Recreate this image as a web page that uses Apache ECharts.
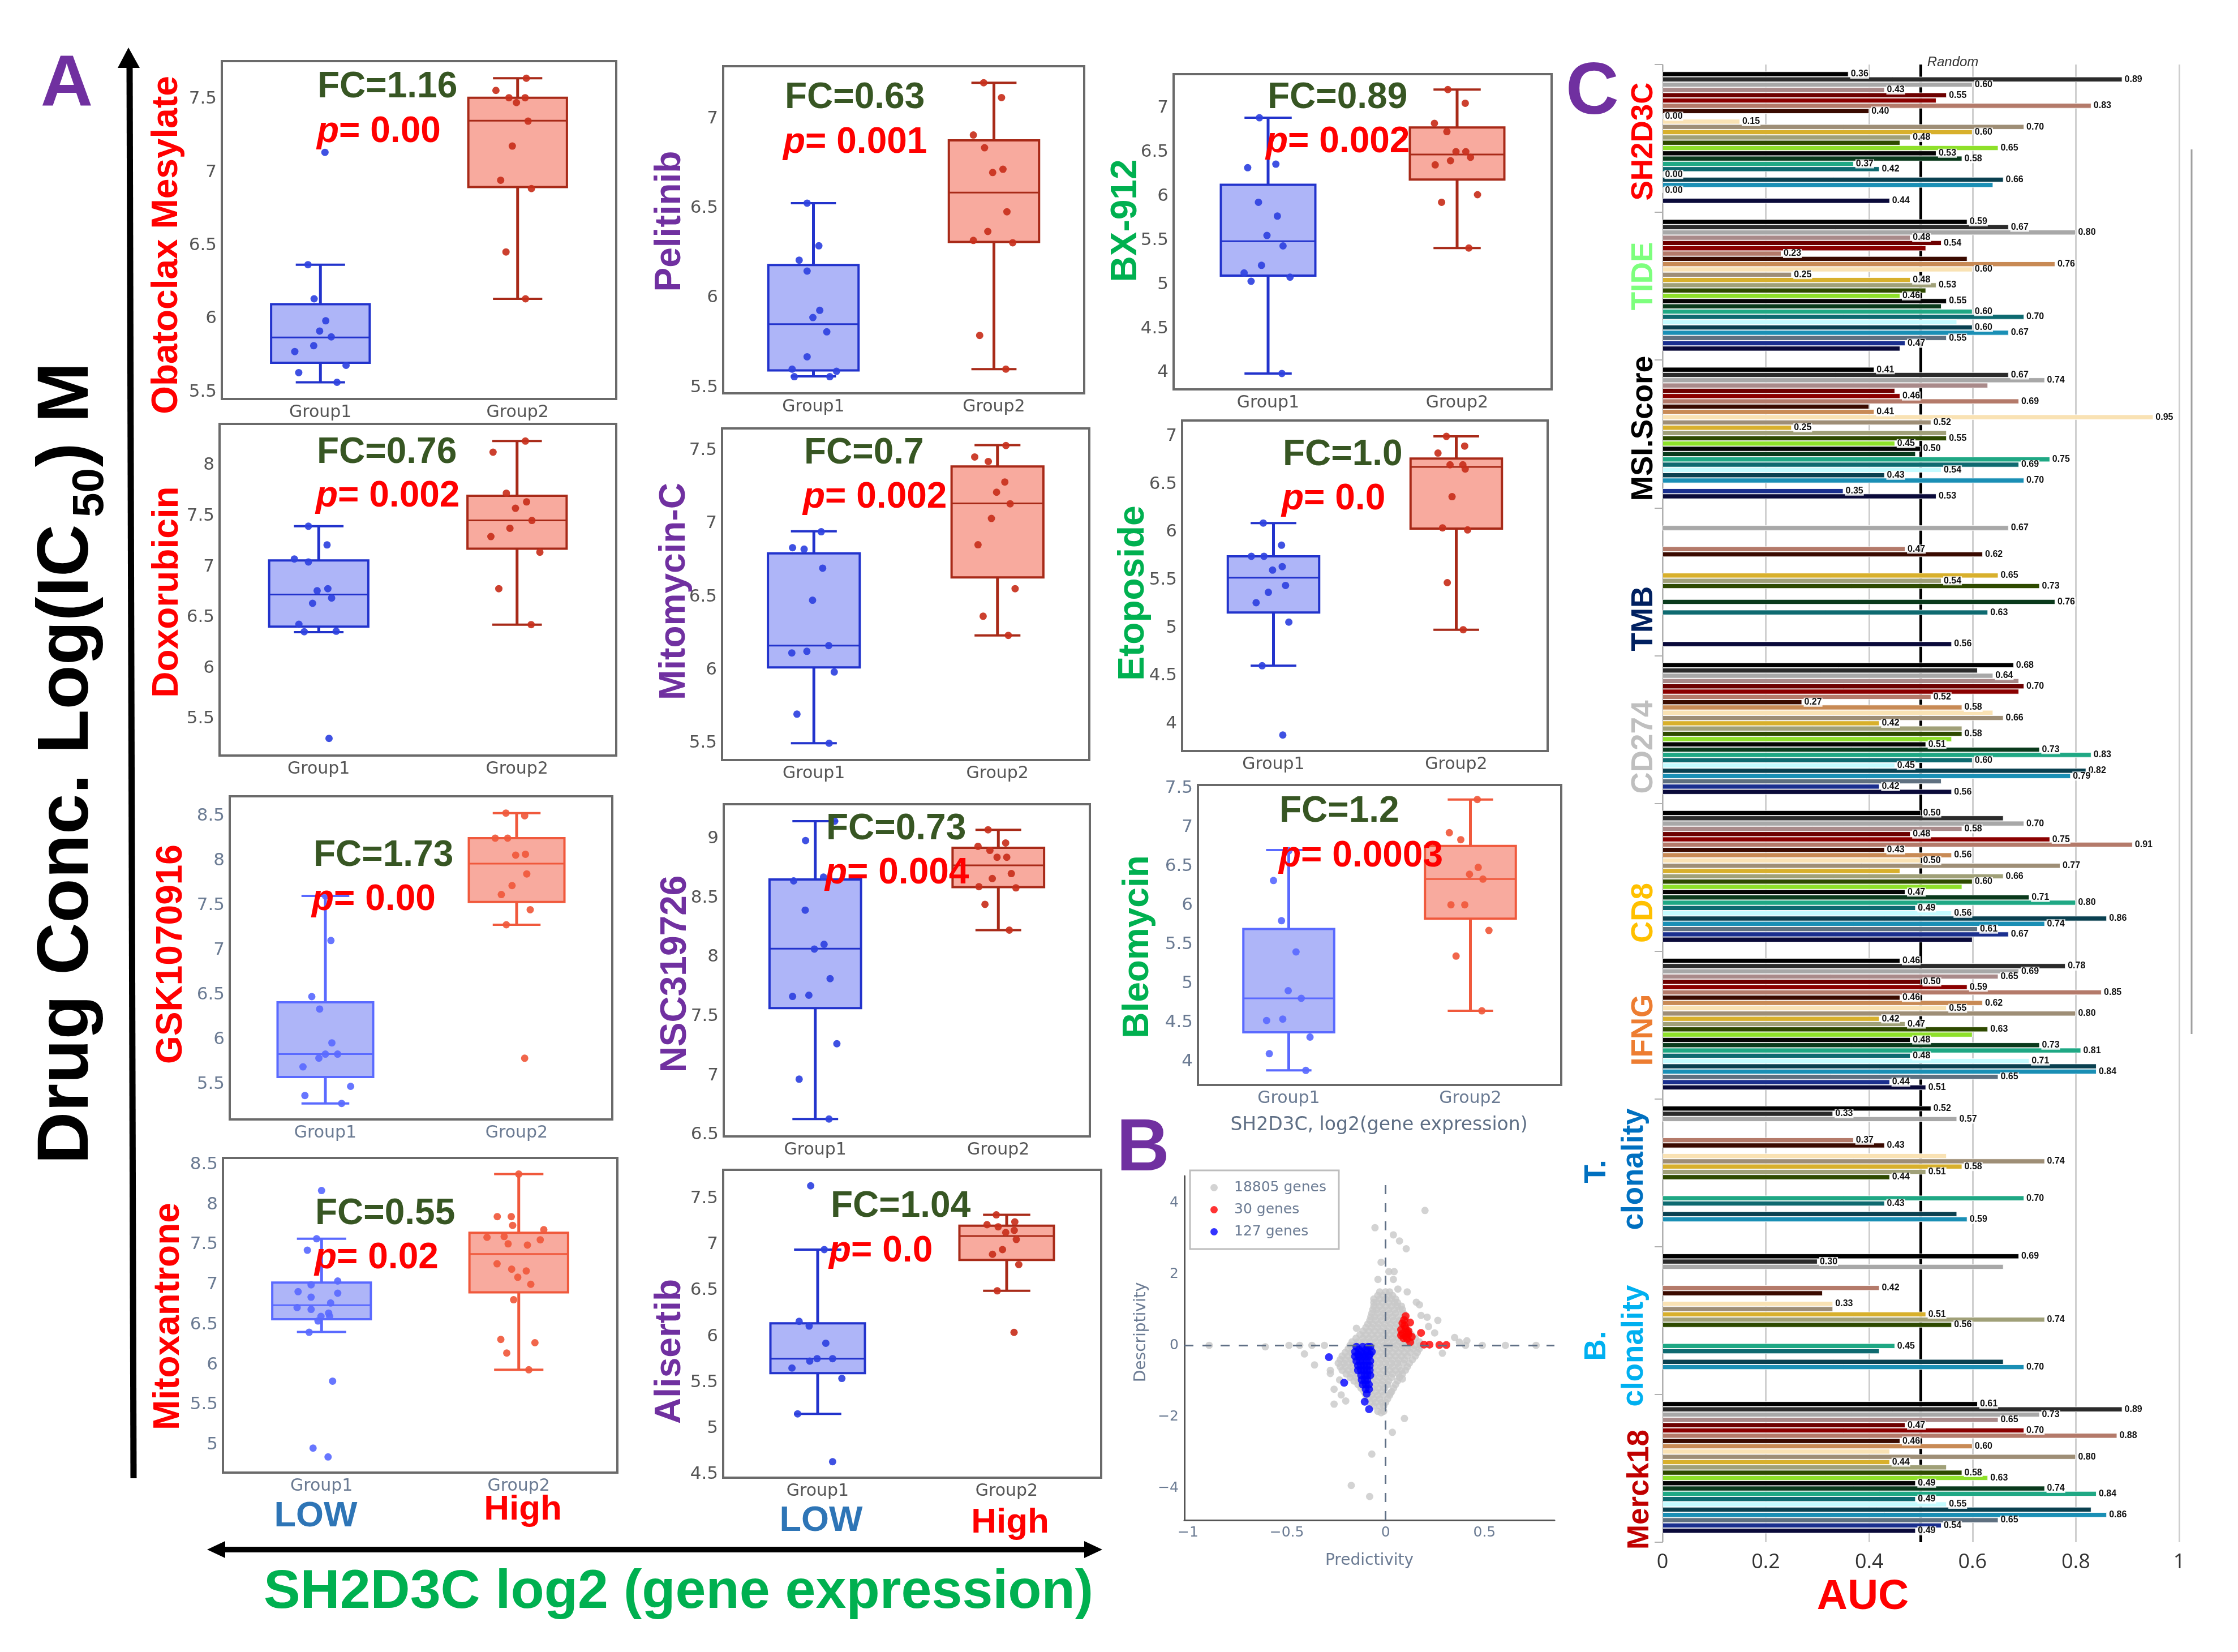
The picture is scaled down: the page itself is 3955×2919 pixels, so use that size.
<!DOCTYPE html>
<html><head><meta charset="utf-8">
<style>html,body{margin:0;padding:0;background:#fff}#c{width:3955px;height:2919px}</style>
<script src="https://cdn.jsdelivr.net/npm/echarts@6/dist/echarts.min.js"></script>
</head><body><div id="c"></div>
<script>
// ---------- Panel A: values. box = [low, q1, median, q3, high]; points = [jitter, value]
const drugNames = ['Obatoclax Mesylate','Doxorubicin','GSK1070916','Mitoxantrone','Pelitinib','Mitomycin-C','NSC319726','Alisertib','BX-912','Etoposide','Bleomycin'];
const fcLabels = ['FC=1.16','FC=0.76','FC=1.73','FC=0.55','FC=0.63','FC=0.7','FC=0.73','FC=1.04','FC=0.89','FC=1.0','FC=1.2'];
const pLabels = ['= 0.00','= 0.002','= 0.00','= 0.02','= 0.001','= 0.002','= 0.004','= 0.0','= 0.002','= 0.0','= 0.0003'];
const groupNames = ['Group1','Group2'];
const yRanges = [[5.453,7.76],[5.139,8.409],[5.106,8.718],[4.653,8.585],[5.467,7.292],[5.385,7.651],[6.486,9.293],[4.464,7.814],[3.81,7.385],[3.717,7.166],[3.699,7.544]];
const yTicks = [[5.5,6,6.5,7,7.5],[5.5,6,6.5,7,7.5,8],[5.5,6,6.5,7,7.5,8,8.5],[5,5.5,6,6.5,7,7.5,8,8.5],[5.5,6,6.5,7],[5.5,6,6.5,7,7.5],[6.5,7,7.5,8,8.5,9],[4.5,5,5.5,6,6.5,7,7.5],[4,4.5,5,5.5,6,6.5,7],[4,4.5,5,5.5,6,6.5,7],[4,4.5,5,5.5,6,6.5,7,7.5]];
const lowBoxes = [[5.567,5.70,5.873,6.10,6.37],[6.356,6.41,6.726,7.0625,7.40],[5.285,5.58,5.836,6.416,7.605],[6.41,6.57,6.744,7.028,7.575],[5.562,5.595,5.853,6.183,6.528],[5.5,6.018,6.167,6.797,6.948],[6.633,7.57,8.073,8.657,9.15],[5.159,5.601,5.759,6.144,6.946],[3.99,5.10,5.49,6.13,6.89],[4.607,5.163,5.525,5.749,6.096],[3.885,4.374,4.809,5.697,6.71]];
const highBoxes = [[6.137,6.90,7.353,7.51,7.643],[6.43,7.178,7.457,7.70,8.24],[7.282,7.537,7.965,8.25,8.53],[5.938,6.905,7.385,7.65,8.383],[5.602,6.312,6.587,6.878,7.2],[6.237,6.633,7.139,7.391,7.537],[8.229,8.592,8.776,8.925,9.077],[6.497,6.834,7.094,7.206,7.324],[5.413,6.19,6.474,6.78,7.21],[4.983,6.038,6.682,6.769,7.0],[4.649,5.83,6.337,6.763,7.358]];
const lowPoints = [
 [[.023,7.137],[-.063,6.37],[-.032,6.137],[.027,5.987],[-.004,5.917],[.055,5.877],[-.034,5.817],[-.13,5.777],[.13,5.683],[-.11,5.633],[.084,5.567]],
 [[.052,5.308],[-.052,7.40],[.042,7.216],[-.123,7.077],[-.052,7.048],[.046,6.784],[-.008,6.764],[.065,6.692],[-.031,6.64],[-.1,6.433],[-.073,6.36],[.088,6.365]],
 [[0,7.605],[.029,7.106],[-.071,6.479],[-.03,6.34],[.034,5.962],[0,5.836],[.064,5.836],[-.034,5.791],[-.117,5.694],[.132,5.476],[-.107,5.374],[.085,5.285]],
 [[0,8.178],[-.025,7.575],[-.072,7.432],[.082,7.047],[-.053,7.0],[-.119,6.914],[.082,6.895],[-.053,6.845],[.046,6.772],[-.124,6.715],[-.053,6.693],[.036,6.646],[-.003,6.605],[.041,6.605],[-.018,6.548],[-.063,6.406],[.056,5.796],[-.043,4.959],[.033,4.849]],
 [[-.035,6.528],[.03,6.29],[-.079,6.21],[-.035,6.149],[.035,5.93],[-.003,5.89],[.074,5.81],[-.035,5.671],[-.118,5.602],[.128,5.59],[-.106,5.56],[.091,5.56]],
 [[.04,6.945],[-.116,6.836],[-.053,6.826],[.048,6.696],[-.007,6.477],[.081,6.167],[-.038,6.128],[-.12,6.117],[.111,5.987],[-.092,5.699],[.083,5.5]],
 [[.106,9.15],[-.053,8.986],[.045,8.677],[-.118,8.645],[-.055,8.398],[.048,8.109],[-.005,8.069],[.081,7.819],[-.035,7.679],[-.124,7.669],[.118,7.269],[-.088,6.97],[.075,6.633]],
 [[-.037,7.64],[.035,6.946],[-.098,6.165],[-.045,6.114],[.043,5.927],[-.003,5.759],[.079,5.759],[-.042,5.733],[-.136,5.657],[.128,5.544],[-.106,5.159],[.079,4.638]],
 [[-.046,6.89],[-.108,6.324],[.041,6.364],[-.051,5.932],[.049,5.775],[-.006,5.555],[.079,5.437],[-.035,5.217],[-.127,5.13],[.116,5.083],[-.09,5.036],[.073,3.99]],
 [[-.056,6.096],[.044,5.865],[-.121,5.749],[-.052,5.749],[.048,5.641],[-.005,5.605],[.066,5.445],[-.028,5.373],[-.095,5.265],[.084,5.062],[-.062,4.607],[.051,3.884]],
 [[0,6.70],[-.084,6.319],[-.04,5.804],[.04,5.404],[-.003,4.907],[.069,4.809],[-.122,4.525],[-.033,4.543],[.117,4.312],[-.107,4.099],[.094,3.885]]
];
const highPoints = [
 [[.044,7.643],[-.11,7.56],[-.044,7.51],[.038,7.51],[-.006,7.477],[.053,7.35],[-.027,7.18],[-.086,6.947],[.07,6.89],[-.059,6.457],[.04,6.137]],
 [[.042,8.24],[-.121,8.13],[-.054,7.726],[.048,7.64],[-.008,7.577],[.075,7.457],[-.036,7.38],[-.132,7.298],[.115,7.144],[-.092,6.784],[.071,6.43]],
 [[-.056,8.53],[.042,8.5],[-.112,8.25],[-.047,8.25],[-.005,8.06],[.046,8.07],[.053,7.85],[-.024,7.72],[-.08,7.62],[.071,7.45],[-.054,7.282],[.042,5.79]],
 [[0,8.383],[-.109,7.852],[-.038,7.852],[-.031,7.742],[.127,7.688],[-.161,7.593],[-.074,7.603],[-.054,7.511],[.044,7.496],[.109,7.562],[-.11,7.262],[-.036,7.195],[.038,7.173],[-.005,7.094],[.061,7.006],[-.026,6.813],[-.091,6.317],[.082,6.276],[-.061,6.147],[.051,5.938]],
 [[-.057,7.2],[.042,7.117],[-.114,6.908],[-.052,6.837],[.05,6.717],[-.007,6.699],[.072,6.48],[-.034,6.37],[-.114,6.32],[.104,6.307],[-.079,5.79],[.066,5.602]],
 [[.046,7.534],[-.124,7.456],[-.05,7.425],[.04,7.285],[-.005,7.215],[.069,7.136],[-.033,7.036],[-.106,6.856],[.096,6.556],[-.078,6.368],[.059,6.237]],
 [[-.056,9.077],[.04,8.966],[-.111,8.937],[-.046,8.903],[-.007,8.845],[.046,8.845],[.071,8.707],[-.033,8.665],[-.106,8.596],[.096,8.586],[-.073,8.447],[.06,8.229]],
 [[-.055,7.324],[.043,7.247],[-.104,7.217],[-.045,7.194],[.04,7.155],[-.005,7.132],[.051,7.056],[-.022,6.946],[-.075,6.895],[.064,6.783],[-.05,6.497],[.039,6.045]],
 [[-.049,7.21],[.043,7.055],[-.12,6.827],[-.054,6.733],[-.006,6.505],[.046,6.505],[.071,6.442],[-.035,6.403],[-.116,6.356],[.108,6.018],[-.082,5.932],[.062,5.413]],
 [[-.054,7.0],[.046,6.899],[-.1,6.826],[-.034,6.704],[.036,6.704],[.049,6.66],[-.023,6.371],[-.075,6.046],[.062,6.024],[-.049,5.474],[.038,4.983]],
 [[.038,7.358],[-.116,6.932],[-.053,6.843],[.043,6.488],[-.005,6.399],[.069,6.337],[-.107,6.008],[-.031,6.008],[.102,5.679],[-.079,5.351],[.063,4.649]]
];

// ---------- Panel B: values
const grayRows = [
 [1.5,[-.03,.0,.02]],
 [1.4,[-.04,-.015,.015,.035]],
 [1.3,[-.06,-.03,.0,.03,.05]],
 [1.2,[-.06,-.045,-.015,.015,.045,.06]],
 [1.1,[-.06,-.03,.0,.03,.06,.08]],
 [1.0,[-.065,-.045,-.015,.015,.045,.07,.085]],
 [.9,[-.07,-.04,-.01,.02,.05,.09]],
 [.8,[-.075,-.055,-.025,.005,.035,.065,.095]],
 [.7,[-.08,-.05,-.02,.01,.04,.07,.10]],
 [.6,[-.09,-.065,-.035,-.005,.025,.055,.085,.105]],
 [.5,[-.10,-.07,-.04,-.01,.02,.05,.08,.10]],
 [.4,[-.115,-.085,-.055,-.025,.005,.035,.065,.095,.115]],
 [.3,[-.13,-.10,-.07,-.04,-.01,.02,.05,.08,.11,.13]],
 [.2,[-.15,-.115,-.085,-.055,-.025,.005,.035,.065,.095,.125,.15]],
 [.1,[-.17,-.14,-.11,-.08,-.05,-.02,.01,.04,.07,.10,.13,.17]],
 [0,[-.18,-.155,-.125,-.095,-.065,-.035,-.005,.025,.055,.085,.115,.145,.175]],
 [-.1,[-.19,-.16,-.13,-.10,-.07,-.04,-.01,.02,.05,.08,.11,.14,.17]],
 [-.2,[-.205,-.175,-.145,-.115,-.085,-.055,-.025,.005,.035,.065,.095,.125,.16]],
 [-.3,[-.22,-.19,-.16,-.13,-.10,-.07,-.04,-.01,.02,.05,.08,.11,.15]],
 [-.4,[-.23,-.205,-.175,-.145,-.115,-.085,-.055,-.025,.005,.035,.065,.095,.135]],
 [-.5,[-.24,-.21,-.18,-.15,-.12,-.09,-.06,-.03,.0,.03,.06,.09,.12]],
 [-.6,[-.23,-.205,-.175,-.145,-.115,-.085,-.055,-.025,.005,.035,.065,.11]],
 [-.7,[-.22,-.19,-.16,-.13,-.10,-.07,-.04,-.01,.02,.05,.08,.10]],
 [-.8,[-.2,-.175,-.145,-.115,-.085,-.055,-.025,.005,.035,.065,.085]],
 [-.9,[-.18,-.15,-.12,-.09,-.06,-.03,.0,.03,.07]],
 [-1.0,[-.16,-.135,-.105,-.075,-.045,-.015,.015,.06]],
 [-1.1,[-.14,-.11,-.08,-.05,-.02,.01,.05]],
 [-1.2,[-.125,-.095,-.065,-.035,-.005,.04]],
 [-1.3,[-.11,-.08,-.05,-.02,.03]],
 [-1.4,[-.1,-.07,-.04,-.01,.02]],
 [-1.5,[-.09,-.06,-.03,.01]],
 [-1.6,[-.075,-.05,-.02,.0]],
 [-1.7,[-.06,-.03,-.01]],
 [-1.85,[-.04,-.01]]
];
const grayOutliers = [[.199,3.785],[-.054,3.30],[.039,3.10],[.07,2.93],[.104,2.71],[-.023,2.33],[.016,2.07],[.043,2.07],[-.039,1.85],[.039,1.85],[.062,1.58],[.109,1.50],[.155,1.21],[.171,1.14],[.179,.84],[.21,.79],[.264,.70],[.217,.53],[.248,.35],[.349,.22],[.411,.13],[.287,-.22],[.404,0],[.489,0],[.606,0],[.761,0],[.373,.09],[-.893,0],[-.609,-.04],[-.489,0],[-.435,0],[-.373,0],[-.31,0],[-.411,-.24],[-.36,-.55],[-.28,-.70],[-.28,-.79],[-.233,-.97],[-.261,-1.23],[-.225,-1.39],[-.202,-1.56],[-.261,-1.65],[-.148,.48],[.085,-.94],[.023,-1.34],[.095,-2.05],[.034,-2.44],[-.07,-3.05],[-.174,-3.93],[-.081,-4.24],[-.023,-1.89]];
const redGenes = [[.101,.82],[.124,.64],[.085,.62],[.093,.71],[.101,.48],[.078,.44],[.116,.40],[.179,.35],[.078,.28],[.101,.25],[.132,.24],[.109,.18],[.124,.09],[.194,.02],[.222,.02],[.272,.01],[.307,.01],[.085,.33],[.116,.31],[.095,.55],[.09,.2],[.11,.36]];
const blueGenes = [[-.287,-.33],[-.21,-1.05],[-.106,-1.58],[-.084,-1.79],[-.148,-.04],[-.116,-.04],[-.09,-.04],[-.078,-.04],[-.155,-.18],[-.124,-.18],[-.093,-.18],[-.07,-.18],[-.155,-.31],[-.135,-.31],[-.116,-.31],[-.1,-.31],[-.085,-.31],[-.148,-.44],[-.13,-.44],[-.116,-.44],[-.095,-.44],[-.078,-.44],[-.14,-.57],[-.125,-.57],[-.109,-.57],[-.095,-.57],[-.081,-.57],[-.14,-.70],[-.125,-.70],[-.109,-.70],[-.095,-.70],[-.081,-.70],[-.124,-.84],[-.105,-.84],[-.093,-.84],[-.078,-.84],[-.121,-.97],[-.105,-.97],[-.093,-.97],[-.116,-1.1],[-.1,-1.1],[-.085,-1.1],[-.101,-1.23],[-.084,-1.23],[-.096,-1.36],[-.135,-.12],[-.1,-.12],[-.08,-.25],[-.14,-.25],[-.11,-.25]];
const bLegendNames = ['18805 genes','30 genes','127 genes'];

// ---------- Panel C: AUC values, 25 cohort slots per signature
const signatures = ['SH2D3C','TIDE','MSI.Score','TMB','CD274','CD8','IFNG','T. clonality','B. clonality','Merck18'];
const aucSH2D3C = [.36,.89,.60,.43,.55,.53,.83,.40,0,.15,.70,.60,.48,.46,.65,.53,.58,.37,.42,0,.66,.64,0,null,.44];
const aucTIDE = [.59,.67,.80,.48,.54,.51,.23,.59,.76,.60,.25,.48,.53,.51,.46,.55,.54,.60,.70,.57,.60,.67,.55,.47,.46];
const aucMSI = [.41,.67,.74,.63,.45,.46,.69,.40,.41,.95,.52,.25,.55,.55,.45,.50,.49,.75,.69,.54,.43,.70,null,.35,.53];
const aucTMB = [null,null,.67,null,null,null,.47,.62,null,null,null,.65,.54,.73,null,null,.76,null,.63,null,null,null,null,null,.56];
const aucCD274 = [.68,.61,.64,.69,.70,.69,.52,.27,.58,.64,.66,.42,.58,.58,.56,.51,.73,.83,.60,.45,.82,.79,.54,.42,.56];
const aucCD8 = [.50,.66,.70,.58,.48,.75,.91,.43,.56,.50,.77,.46,.66,.60,.58,.47,.71,.80,.49,.56,.86,.74,.61,.67,.60];
const aucIFNG = [.46,.78,.69,.65,.50,.59,.85,.46,.62,.55,.80,.42,.47,.63,.60,.48,.73,.81,.48,.71,.84,.84,.65,.44,.51];
const aucTClon = [.52,.33,.57,null,null,null,.37,.43,null,.55,.74,.58,.51,.44,null,null,null,.70,.43,null,.57,.59,null,null,null];
const aucBClon = [.69,.30,.66,null,null,null,.42,.31,null,.33,.33,.51,.74,.56,null,null,null,.45,.42,null,.66,.70,null,null,null];
const aucMerck = [.61,.89,.73,.65,.47,.70,.88,.46,.60,.44,.80,.44,.55,.58,.63,.49,.74,.84,.49,.55,.83,.86,.65,.54,.49];
const aucAll = [aucSH2D3C,aucTIDE,aucMSI,aucTMB,aucCD274,aucCD8,aucIFNG,aucTClon,aucBClon,aucMerck];
const unlabelled = [[5,13,21],[5,7,13,16,19,24],[3,4,7,12,16],[],[1,3,5,9,12,14,22],[1,11,14,24],[14,20],[9,20],[2,7,10,18,20],[9,12,20]];

// ---------- Layout and styling
const slotColors = ['#000000','#2b2b2b','#a8a8a8','#a98a8a','#6d0000','#8b0000','#b47a6a','#3a0a00','#c88a55','#f9e2b4','#9e8e76','#d8b02c','#a0a078','#2e4a00','#8ee02a','#050505','#0a3a1c','#1fa884','#0e6a70','#c4fbff','#0a4050','#1a8fb5','#5f7080','#1a2f8f','#0a0a3a'];
const panelRects = [[392,108,1089,705],[388,749,1089,1335],[406,1407,1082,1978],[394,2046,1091,2602],[1278,117,1916,695],[1276,757,1925,1343],[1279,1421,1926,2008],[1278,2067,1946,2611],[2074,131,2742,688],[2089,743,2735,1327],[2117,1387,2759,1917]];
const drugLabelPos = [[295,433],[296,1046],[303,1686],[298,2326],[1184,391],[1192,1045],[1194,1721],[1184,2388],[1990,390],[2003,1048],[2011,1673]];
const fcPos = [[561,154],[560,800],[554,1512],[557,2145],[1387,173],[1421,801],[1460,1465],[1468,2132],[2240,173],[2267,804],[2261,1434]];
const pPos = [[560,233],[558,877],[551,1590],[556,2223],[1384,252],[1419,879],[1458,1543],[1465,2211],[2237,251],[2265,882],[2260,1513]];
const RED='#ff0000', PURPLE='#7030a0', GREEN='#00b050';
const drugColors = [RED,RED,RED,RED,PURPLE,PURPLE,PURPLE,PURPLE,GREEN,GREEN,GREEN];
const lightPanels = [2,3,10];
const FONT='Liberation Sans';

const grid=[], xAxis=[], yAxis=[], series=[], elements=[];
function txt(text,x,y,size,fill,o){o=o||{};return {type:'text',x:x,y:y,rotation:o.rot||0,z:100,silent:true,style:Object.assign({text:text,fontSize:size,fontWeight:o.weight||'bold',fontStyle:o.style||'normal',fontFamily:o.family||FONT,fill:fill,textAlign:o.align||'center',textVerticalAlign:'middle'},o.extra||{})};}
const ROT=Math.PI/2;

function makeBoxRenderer(strokes,fills){
  return function(params,api){
    const i=api.value(0), low=api.coord([i,api.value(1)]), q1=api.coord([i,api.value(2)]), med=api.coord([i,api.value(3)]), q3=api.coord([i,api.value(4)]), high=api.coord([i,api.value(5)]);
    const band=api.size([1,0])[0], bw=band*0.5, cap=bw*0.5, cx=q1[0];
    const ln=(x1,y1,x2,y2,w)=>({type:'line',shape:{x1,y1,x2,y2},style:{stroke:strokes[i],lineWidth:w,fill:null}});
    return {type:'group',children:[
      ln(cx,high[1],cx,q3[1],5), ln(cx,q1[1],cx,low[1],5),
      ln(cx-cap/2,high[1],cx+cap/2,high[1],4), ln(cx-cap/2,low[1],cx+cap/2,low[1],4),
      {type:'rect',shape:{x:cx-bw/2,y:q3[1],width:bw,height:q1[1]-q3[1]},style:{fill:fills[i],stroke:strokes[i],lineWidth:4}},
      ln(cx-bw/2,med[1],cx+bw/2,med[1],3)
    ]};
  };
}

drugNames.forEach(function(name,i){
  const r=panelRects[i], light=lightPanels.indexOf(i)>=0;
  const lowC=light?'#5a6aff':'#2233cc', highC=light?'#f0593c':'#a82a18';
  const tickC=light?'#6b7b93':'#555555';
  grid.push({left:r[0],top:r[1],width:r[2]-r[0],height:r[3]-r[1],show:true,borderColor:'#6a6a6a',borderWidth:4,backgroundColor:'#fff'});
  const gi=grid.length-1;
  const cx=xAxis.length;
  xAxis.push({type:'category',gridIndex:gi,data:groupNames,axisLine:{show:false},axisTick:{show:false},splitLine:{show:false},
    axisLabel:{color:tickC,fontSize:30,fontFamily:'DejaVu Sans',margin:9,interval:0}});
  xAxis.push({type:'value',gridIndex:gi,show:false,min:-0.5,max:1.5,splitLine:{show:false}});
  const yi=yAxis.length;
  yAxis.push({type:'value',gridIndex:gi,min:yRanges[i][0],max:yRanges[i][1],axisLine:{show:false},axisTick:{show:false},splitLine:{show:false},
    axisLabel:{color:tickC,fontSize:31,fontFamily:'DejaVu Sans',margin:9,customValues:yTicks[i],formatter:function(v){return String(v);}}});
  series.push({type:'custom',name:name+' box',xAxisIndex:cx,yAxisIndex:yi,z:2,silent:true,
    renderItem:makeBoxRenderer([lowC,highC],['#aeb5f8','#f8aa9e']),
    encode:{x:0,y:[1,2,3,4,5]},
    data:[[0].concat(lowBoxes[i]),[1].concat(highBoxes[i])]});
  series.push({type:'scatter',name:name+' low',xAxisIndex:cx+1,yAxisIndex:yi,z:3,silent:true,symbolSize:13,itemStyle:{color:lowC==='#2233cc'?'#2f42e0':lowC,opacity:.92},
    data:lowPoints[i].map(function(p){return [p[0],p[1]];})});
  series.push({type:'scatter',name:name+' high',xAxisIndex:cx+1,yAxisIndex:yi,z:3,silent:true,symbolSize:13,itemStyle:{color:highC==='#a82a18'?'#c8301c':highC,opacity:.92},
    data:highPoints[i].map(function(p){return [1+p[0],p[1]];})});
  elements.push(txt(name,drugLabelPos[i][0],drugLabelPos[i][1],64,drugColors[i],{rot:ROT}));
  elements.push(txt(fcLabels[i],fcPos[i][0],fcPos[i][1],64,'#375623',{align:'left'}));
  elements.push(txt('{i|p}'+pLabels[i],pPos[i][0],pPos[i][1],64,RED,{align:'left',extra:{rich:{i:{fontStyle:'italic',fontWeight:'bold',fontSize:64,fontFamily:FONT,fill:RED}}}}));
});

// Panel B
const bGrid=grid.length;
grid.push({left:2093,top:2078,width:654,height:608});
const bx=xAxis.length, by=yAxis.length;
const bLabel={color:'#6b7b93',fontSize:25,fontFamily:'DejaVu Sans',margin:10,formatter:function(v){return String(v).replace('-','\u2212');}};
xAxis.push({type:'value',gridIndex:bGrid,min:-1.0186,max:.854,axisLine:{show:true,onZero:false,lineStyle:{color:'#555',width:3}},axisTick:{show:false},splitLine:{show:false},
  axisLabel:Object.assign({customValues:[-1,-.5,0,.5]},bLabel),name:'Predictivity',nameLocation:'middle',nameGap:58,nameTextStyle:{color:'#6b7b93',fontSize:28,fontFamily:'DejaVu Sans'}});
yAxis.push({type:'value',gridIndex:bGrid,min:-4.903,max:4.75,axisLine:{show:true,onZero:false,lineStyle:{color:'#555',width:3}},axisTick:{show:false},splitLine:{show:false},
  axisLabel:Object.assign({customValues:[-4,-2,0,2,4]},bLabel),name:'Descriptivity',nameLocation:'middle',nameGap:62,nameRotate:90,nameTextStyle:{color:'#6b7b93',fontSize:28,fontFamily:'DejaVu Sans',padding:[0,0,0,56]}});
const grayPts=[];
grayRows.forEach(function(row){row[1].forEach(function(x){grayPts.push([x,row[0]]);});});
grayOutliers.forEach(function(p){grayPts.push(p);});
series.push({type:'scatter',name:bLegendNames[0],xAxisIndex:bx,yAxisIndex:by,z:2,silent:true,symbolSize:13,itemStyle:{color:'#c8c8c8'},data:grayPts,
  markLine:{silent:true,symbol:'none',animation:false,label:{show:false},lineStyle:{color:'#5f6f85',width:3,type:[16,16]},data:[{xAxis:0},{yAxis:0}]}});
series.push({type:'scatter',name:bLegendNames[1],xAxisIndex:bx,yAxisIndex:by,z:3,silent:true,symbolSize:14,itemStyle:{color:'#ff0000'},data:redGenes});
series.push({type:'scatter',name:bLegendNames[2],xAxisIndex:bx,yAxisIndex:by,z:3,silent:true,symbolSize:14,itemStyle:{color:'#0000ff'},data:blueGenes});

// Panel C: frame grid (ticks, gridlines, random line)
const cFrame=grid.length;
grid.push({left:2938,top:114,width:913,height:2611});
const cx0=xAxis.length, cy0=yAxis.length;
xAxis.push({type:'value',gridIndex:cFrame,min:0,max:1,interval:.2,axisLine:{show:false},axisTick:{show:false},
  splitLine:{show:true,lineStyle:{color:'#cfcfcf',width:3}},axisLabel:{color:'#333',fontSize:36,fontFamily:'Open Sans',margin:18}});
yAxis.push({type:'value',gridIndex:cFrame,min:0,max:10,interval:1,inverse:true,axisLine:{show:true,onZero:false,lineStyle:{color:'#b0b0b0',width:2}},
  axisTick:{show:true,length:14,lineStyle:{color:'#b0b0b0',width:2}},axisLabel:{show:false},splitLine:{show:false}});
series.push({type:'line',name:'Random',xAxisIndex:cx0,yAxisIndex:cy0,z:1,silent:true,symbol:'none',lineStyle:{color:'#000',width:5},data:[[.5,0],[.5,10]]});
// Panel C: bars
const cBars=grid.length;
grid.push({left:2938,top:117,width:913,height:2611});
const slotNames=[], slotValues=[];
aucAll.forEach(function(vals,g){
  slotNames.push(signatures[g]+' a'); slotValues.push({value:null,label:{show:false}});
  vals.forEach(function(v,k){
    slotNames.push(signatures[g]+' '+k);
    slotValues.push({value:v,itemStyle:{color:slotColors[k]},label:{show:v!==null&&unlabelled[g].indexOf(k)<0}});
  });
  slotNames.push(signatures[g]+' b'); slotValues.push({value:null,label:{show:false}});
  slotNames.push(signatures[g]+' c'); slotValues.push({value:null,label:{show:false}});
});
const cbx=xAxis.length, cby=yAxis.length;
xAxis.push({type:'value',gridIndex:cBars,show:false,min:0,max:1,splitLine:{show:false}});
yAxis.push({type:'category',gridIndex:cBars,show:false,inverse:true,data:slotNames});
series.push({type:'bar',name:'AUC',xAxisIndex:cbx,yAxisIndex:cby,z:2,silent:true,barWidth:'100%',
  itemStyle:{borderColor:'#ffffff',borderWidth:.9},
  label:{position:'right',distance:3,color:'#111',fontFamily:FONT,fontWeight:'bold',fontSize:16,backgroundColor:'rgba(255,255,255,.85)',padding:[0,1],
    formatter:function(p){return Number(p.value).toFixed(2);}},
  data:slotValues});

// Text and decorations
elements.push(txt('A',118,152,128,PURPLE));
elements.push(txt('B',2020,2032,130,PURPLE));
elements.push(txt('C',2814,165,130,PURPLE));
elements.push(txt('Drug Conc. Log(IC',120,2057,128,'#000',{rot:ROT,align:'left'}));
elements.push(txt('50',160,914,78,'#000',{rot:ROT,align:'left'}));
elements.push(txt(') M',120,825,128,'#000',{rot:ROT,align:'left'}));
elements.push(txt('SH2D3C log2 (gene expression)',1199,2814,97,GREEN));
elements.push(txt('LOW',558,2680,63,'#2e75b6'));
elements.push(txt('High',924,2668,62,RED));
elements.push(txt('LOW',1451,2688,63,'#2e75b6'));
elements.push(txt('High',1785,2691,62,RED));
elements.push(txt('SH2D3C, log2(gene expression)',2437,1988,33,'#5f6f85',{weight:'normal',family:'DejaVu Sans'}));
elements.push(txt('Random',3451,110,24,'#333',{style:'italic',weight:'normal'}));
elements.push(txt('AUC',3292,2822,75,RED));
[['SH2D3C',2905,250,RED],['TIDE',2905,488,'#7dff7d'],['MSI.Score',2905,757,'#000'],['TMB',2905,1093,'#002060'],['CD274',2905,1320,'#bfbfbf'],['CD8',2905,1613,'#ffc000'],['IFNG',2905,1820,'#ed7d31'],['clonality',2888,2066,'#0070c0'],['T.',2822,2070,'#0070c0'],['clonality',2888,2378,'#00b0f0'],['B.',2822,2378,'#00b0f0'],['Merck18',2898,2632,'#c00000']].forEach(function(t){
  elements.push(txt(t[0],t[1],t[2],53,t[3],{rot:ROT}));
});
function arrowHead(pts){return {type:'polygon',z:100,silent:true,shape:{points:pts},style:{fill:'#000'}};}
elements.push({type:'line',z:100,silent:true,shape:{x1:229,y1:112,x2:236,y2:2612},style:{stroke:'#000',lineWidth:11}});
elements.push(arrowHead([[227,84],[208,120],[247,120]]));
elements.push({type:'line',z:100,silent:true,shape:{x1:392,y1:2738,x2:1922,y2:2738},style:{stroke:'#000',lineWidth:10}});
elements.push(arrowHead([[366,2738],[398,2723],[398,2753]]));
elements.push(arrowHead([[1948,2738],[1916,2723],[1916,2753]]));
elements.push({type:'line',z:100,silent:true,shape:{x1:3873,y1:264,x2:3873,y2:1827},style:{stroke:'#a0a0a0',lineWidth:3}});

const option={
  animation:false,
  backgroundColor:'#ffffff',
  grid:grid, xAxis:xAxis, yAxis:yAxis, series:series,
  legend:{data:bLegendNames,orient:'vertical',left:2103,top:2068,padding:[18,22,18,36],itemGap:14,itemWidth:13,itemHeight:13,icon:'circle',
    backgroundColor:'#ffffff',borderColor:'#bdbdbd',borderWidth:3,selectedMode:false,
    textStyle:{color:'#6b7b93',fontSize:25,fontFamily:'DejaVu Sans',padding:[0,0,0,24]}},
  graphic:{elements:elements}
};
echarts.init(document.getElementById('c'),null,{renderer:'canvas',width:3955,height:2919}).setOption(option);
</script></body></html>
